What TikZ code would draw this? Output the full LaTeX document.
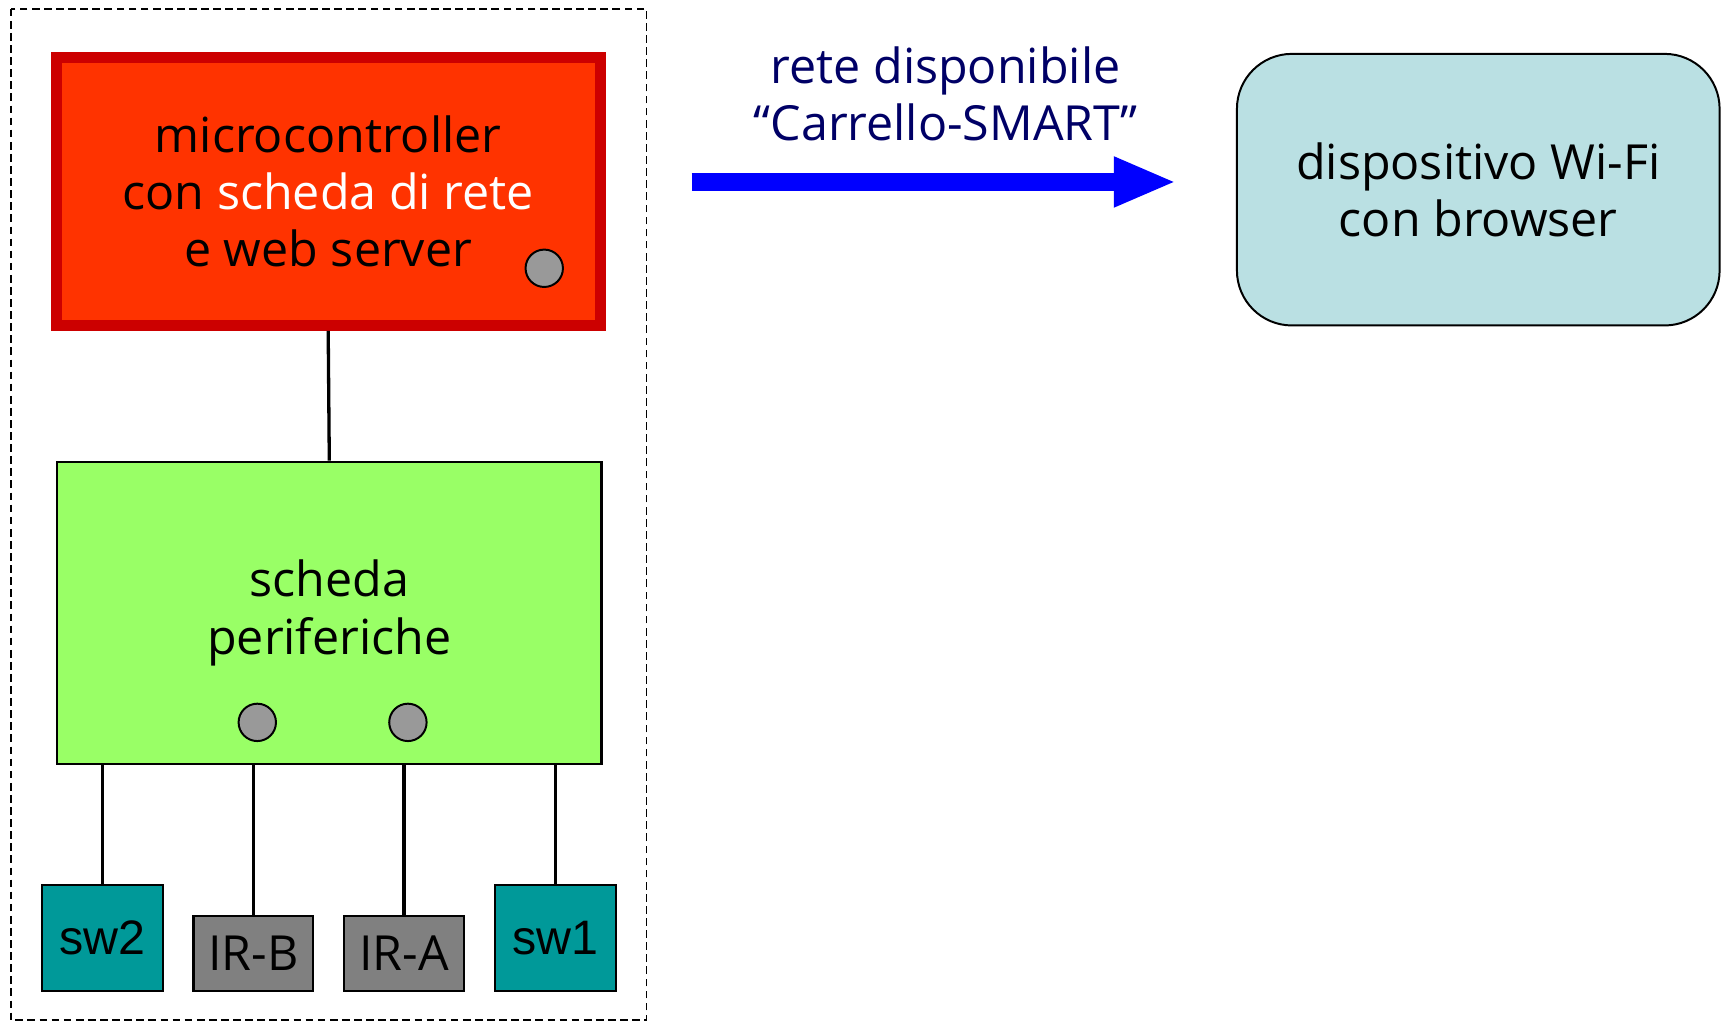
\documentclass[tikz,border=0pt]{standalone}
\usepackage{fontspec}
\setmainfont{Open Sans}
\newfontfamily\arialfont{Liberation Sans}
\usetikzlibrary{arrows.meta}
\definecolor{mcfill}{HTML}{FF3300}
\definecolor{mcborder}{HTML}{CC0000}
\definecolor{perfill}{HTML}{99FF66}
\definecolor{swfill}{HTML}{009999}
\definecolor{irfill}{HTML}{808080}
\definecolor{ledfill}{HTML}{999999}
\definecolor{wififill}{HTML}{BAE0E3}
\definecolor{navytext}{HTML}{000066}
\definecolor{arrowblue}{HTML}{0000FF}
\tikzset{
  bigtext/.style={font=\fontsize{44}{52}\selectfont, align=center},
  board/.style={draw, line width=2pt, inner sep=0pt},
  led/.style={circle, draw, line width=1.8pt, fill=ledfill, minimum size=34pt, inner sep=0pt},
  swbox/.style={board, fill=swfill, minimum width=110pt, minimum height=96pt, font=\arialfont\fontsize{44}{50}\selectfont},
  irbox/.style={board, fill=irfill, minimum width=109pt, minimum height=68pt, font=\fontsize{44}{50}\selectfont},
  wire/.style={line width=3pt},
}
\begin{document}
\begin{tikzpicture}[x=1pt,y=-1pt]
\useasboundingbox (0,0) rectangle (1568,932);
% dashed enclosure
\draw[line width=1.8pt, dash pattern=on 7pt off 4pt] (10,8) rectangle (588,928);
% microcontroller
\node[draw=mcborder, line width=10pt, fill=mcfill, minimum width=495pt, minimum height=244pt, inner sep=0pt, bigtext] (mc) at (298.5,174)
 {microcontroller\\con \textcolor{white}{scheda di rete}\\e web server};
\node[led] (mcled) at (495,244) {};
% peripheral board
\node[board, fill=perfill, minimum width=495pt, minimum height=275pt, bigtext] (per) at (299.5,557.5)
 {scheda\\periferiche};
\node[led] (ledb) at (234,657) {};
\node[led] (leda) at (371,657) {};
% small boxes
\node[swbox] (sw2) at (93,853) {sw2};
\node[irbox] (irb) at (230.5,867) {IR-B};
\node[irbox] (ira) at (367.5,867) {IR-A};
\node[swbox] (sw1) at (505.5,853) {sw1};
% wires
\draw[wire] (mc.south) -- (per.north);
\draw[wire] (per.south -| sw2.north) -- (sw2.north);
\draw[wire] (per.south -| irb.north) -- (irb.north);
\draw[wire] (per.south -| ira.north) -- (ira.north);
\draw[wire] (per.south -| sw1.north) -- (sw1.north);
% wifi device
\node[draw, line width=1.8pt, fill=wififill, rounded corners=50pt, minimum width=439pt, minimum height=247pt, bigtext] (wifi) at (1344.5,172.5)
 {dispositivo Wi-Fi\\con browser};
% arrow and label
\coordinate (arrs) at (629,165.5);
\coordinate (arre) at (1070,165.5);
\draw[arrowblue, line width=17pt, -{Triangle[length=57pt,width=42pt]}] (arrs) -- (arre);
\node[bigtext, text=navytext] (lbl) at (860,85) {rete disponibile\\“Carrello-SMART”};
\end{tikzpicture}
\end{document}
